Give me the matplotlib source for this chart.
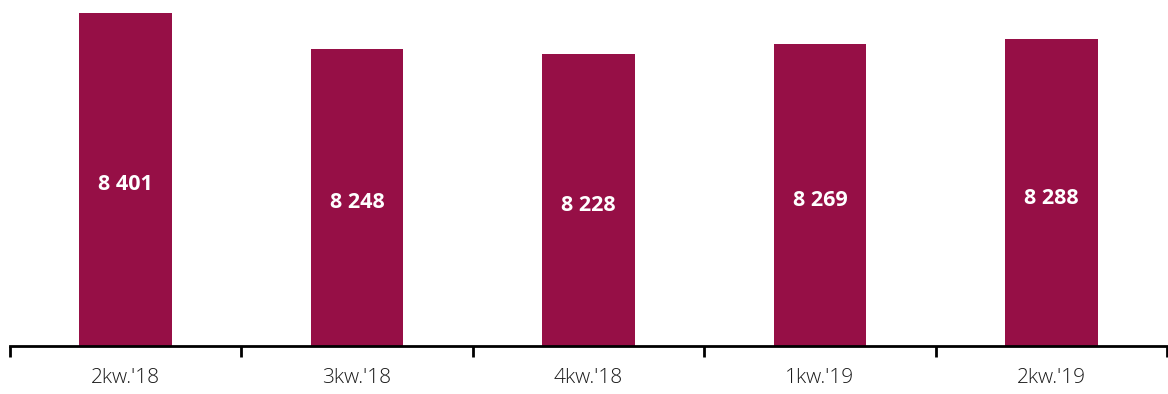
import matplotlib.pyplot as plt
import numpy as np

# dane
kwartaly = ["2kw.'18", "3kw.'18", "4kw.'18", "1kw.'19", "2kw.'19"]
wartosci = [8401, 8248, 8228, 8269, 8288]
etykiety = ["8 401", "8 248", "8 228", "8 269", "8 288"]

kolor = '#960F46'

fig = plt.figure(figsize=(11.68, 3.94), dpi=100)
ax = fig.add_axes([10/1168, 48/394, 1157/1168, 346/394])

x = np.arange(len(kwartaly))
ymin = 6985
ax.bar(x, np.array(wartosci) - ymin, bottom=ymin, width=0.4, color=kolor)
ax.set_xlim(-0.5, len(kwartaly) - 0.5)
ax.set_ylim(ymin, ymin + 346/0.2353)

# etykiety wartosci w srodku slupkow
for xi, v, t in zip(x, wartosci, etykiety):
    ax.annotate(t, (xi, (v + ymin) / 2), xytext=(0, -4), textcoords='offset points',
                ha='center', va='center', color='white',
                fontsize=15.5, fontweight='bold', family='Open Sans')

# os x z podzialkami na granicach kategorii
for s in ['top', 'right', 'left']:
    ax.spines[s].set_visible(False)
ax.spines['bottom'].set_linewidth(2)
ax.set_yticks([])
ax.set_xticks(x)
ax.set_xticklabels(kwartaly, fontsize=15, family='Open Sans', fontweight='light', color='#1a1a1a')
ax.tick_params(axis='x', which='major', length=0, pad=16)
ax.set_xticks(np.arange(-0.5, len(kwartaly)), minor=True)
ax.tick_params(axis='x', which='minor', length=8, width=2, direction='out')

fig.savefig('out.png', dpi=100)
